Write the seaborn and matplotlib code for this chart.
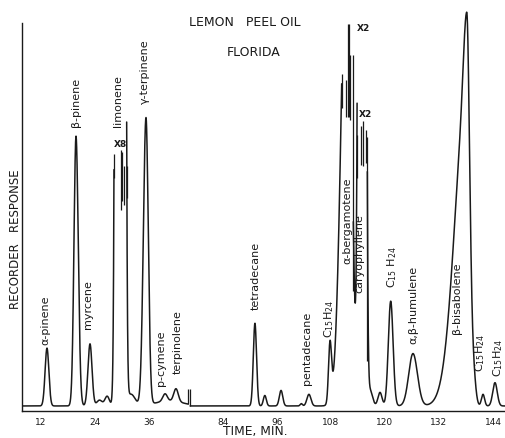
import numpy as np
import pandas as pd
import matplotlib
matplotlib.use("Agg")
import matplotlib.pyplot as plt
import seaborn as sns

# ---------------- data ----------------
# peak table: retention time (min), height above baseline (% of full scale),
# left / right half-widths (min)
peak_time = [13.33, 19.78, 22.89, 25.0, 26.7, 29.67, 32.0, 35.33, 39.56, 40.5, 42.0,
             91.1, 93.3, 96.9, 101.4, 103.1, 107.78, 111.78, 115.0, 116.67, 118.89,
             121.27, 126.22, 138.16, 138.16, 139.7, 141.78, 144.44]
peak_height = [14.9, 69.5, 16.0, 1.5, 2.5, 5000, 3.0, 74.0, 1.9, 1.3, 3.3,
               21.3, 2.7, 4.0, 0.6, 3.0, 15.0, 141, 1150, 4.0, 3.5,
               27.0, 13.5, 80.0, 21.4, 6.0, 3.0, 6.0]
peak_wl = [0.42, 0.45, 0.45, 0.6, 0.5, 0.49, 0.9, 0.58, 0.5, 3.0, 0.5,
           0.36, 0.33, 0.38, 0.25, 0.45, 0.33, 1.36, 0.51, 0.55, 0.45,
           0.53, 0.95, 2.6, 0.7, 0.5, 0.35, 0.5]
peak_wr = [0.42, 0.50, 0.45, 0.6, 0.5, 0.47, 0.9, 0.51, 0.5, 3.0, 0.5,
           0.36, 0.33, 0.38, 0.25, 0.45, 0.33, 0.80, 0.44, 0.55, 0.45,
           0.53, 1.00, 0.70, 0.55, 0.5, 0.35, 0.5]
baseline = 1.3

# recorded time spans (the chart skips 45-77 min)
span_start = [8.0, 76.7]
span_end = [44.7, 146.9]

# off-scale stretches where the pen left the chart (attenuation changed)
offscale_start = [28.22, 110.38, 113.80]
offscale_end = [31.04, 112.96, 116.07]

# vertical pen strokes: time, low and high response
pen_t = [28.22, 29.71, 30.00, 30.44, 31.04, 44.70, 76.70,
         110.38, 111.33, 111.84, 111.90, 112.20, 112.96,
         113.80, 114.78, 115.22, 115.67, 116.07]
pen_lo = [60.0, 51.8, 54.0, 53.0, 55.0, 1.8, 1.3,
          78.0, 75.8, 75.8, 75.8, 75.0, 31.0,
          60.0, 63.4, 63.0, 63.9, 13.0]
pen_hi = [66.2, 67.3, 66.8, 63.0, 63.1, 5.6, 5.6,
          86.9, 85.3, 99.7, 99.7, 91.8, 91.8,
          71.0, 73.3, 74.6, 72.4, 70.7]

# attenuation marks
atten_text = ["X8", "X2", "X2"]
atten_t = [29.56, 115.11, 115.56]
atten_r = [68.6, 98.5, 76.5]

# peak names
label_text = ["α-pinene", "β-pinene", "myrcene", "limonene", "γ-terpinene",
              "p-cymene", "terpinolene", "tetradecane", "pentadecane",
              r"C$_{15}$H$_{24}$", "α-bergamotene", "caryophyllene",
              r"C$_{15}$ H$_{24}$", "α,β-humulene", "β-bisabolene",
              r"C$_{15}$H$_{24}$", r"C$_{15}$H$_{24}$"]
label_t = [12.89, 19.78, 22.44, 29.11, 35.11, 38.67, 42.44, 91.33, 102.67,
           107.56, 111.56, 114.22, 121.56, 126.22, 136.0, 141.11, 145.11]
label_r = [23.5, 79.6, 27.3, 79.9, 87.4, 13.7, 17.8, 34.8, 16.2,
           23.7, 49.0, 40.5, 37.1, 27.3, 29.1, 14.9, 13.7]

xtick_values = [12, 24, 36, 84, 96, 108, 120, 132, 144]

# ---------------- build the trace ----------------
def detector(t):
    r = np.full_like(t, baseline)
    for tc, h, wl, wr in zip(peak_time, peak_height, peak_wl, peak_wr):
        w = np.where(t < tc, wl, wr)
        r = r + h * np.exp(-0.5 * ((t - tc) / w) ** 2)
    return r

frames = []
seg = 0
for a, b in zip(span_start, span_end):
    t = np.arange(a, b + 1e-9, 0.005)
    r = detector(t)
    for lo, hi in zip(offscale_start, offscale_end):
        r[(t > lo) & (t < hi)] = np.nan
    valid = ~np.isnan(r)
    run_id = np.cumsum(np.r_[True, valid[1:] != valid[:-1]])
    df = pd.DataFrame({"time": t, "response": r, "run": run_id + seg * 1000})
    frames.append(df[valid])
    seg += 1
trace = pd.concat(frames, ignore_index=True)

# ---------------- figure ----------------
sns.set_style("white")
plt.rcParams["font.family"] = ["DejaVu Sans"]
ink = "#1a1a1a"

fig = plt.figure(figsize=(5.06, 4.38), dpi=100)
ax = fig.add_axes([22 / 506, 27 / 438, 484 / 506, 406 / 438])

sns.lineplot(data=trace, x="time", y="response", units="run", estimator=None,
             sort=False, color=ink, linewidth=1.1, ax=ax)
ax.vlines(pen_t, pen_lo, pen_hi, color=ink, linewidth=0.9)

# broken time axis: 45-77 min omitted
GAP_A, GAP = 44.9, 31.56
def fwd(t):
    t = np.asarray(t, dtype=float)
    return np.where(t <= GAP_A, t, np.where(t >= GAP_A + GAP, t - GAP, GAP_A))
def inv(p):
    p = np.asarray(p, dtype=float)
    return np.where(p <= GAP_A, p, p + GAP)
ax.set_xscale("function", functions=(fwd, inv))
ax.set_xlim(7.78, 146.89)
ax.set_ylim(0, 104.6)

ax.set_xticks(xtick_values)
ax.set_xticklabels([str(v) for v in xtick_values], fontsize=6.5, color=ink)
ax.set_yticks([])
ax.tick_params(axis="x", length=0, pad=5)
ax.minorticks_off()

for side in ["top", "right"]:
    ax.spines[side].set_visible(False)
for side in ["left", "bottom"]:
    ax.spines[side].set_color(ink)
    ax.spines[side].set_linewidth(1.0)
ax.spines["left"].set_bounds(0, 100)

ax.set_xlabel("TIME, MIN.", fontsize=8.8, color=ink)
ax.xaxis.set_label_coords((255 - 22) / 484, (411 - 432) / 406)
ax.xaxis.label.set_va("center")
ax.set_ylabel("RECORDER   RESPONSE", fontsize=8.5, color=ink)
ax.yaxis.set_label_coords((16 - 22) / 484, (411 - 239) / 406)
ax.yaxis.label.set_va("center")

for txt, t, r in zip(label_text, label_t, label_r):
    ax.text(t, r, txt, rotation=90, ha="center", va="center",
            fontsize=8, color=ink)
for txt, t, r in zip(atten_text, atten_t, atten_r):
    ax.text(t, r, txt, ha="center", va="center", fontsize=6.5,
            fontweight="bold", color=ink)

fig.text(245 / 506, 1 - 23 / 438, "LEMON   PEEL OIL", ha="center", va="center",
         fontsize=9, color=ink)
fig.text(254 / 506, 1 - 52 / 438, "FLORIDA", ha="center", va="center",
         fontsize=9, color=ink)

fig.savefig("out.png", dpi=100, facecolor="white")
